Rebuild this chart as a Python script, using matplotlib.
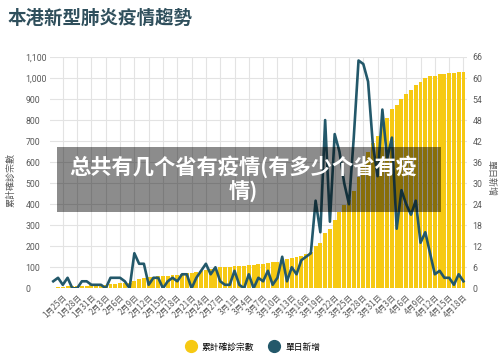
import matplotlib
matplotlib.use("Agg")
import matplotlib.pyplot as plt
import numpy as np
from matplotlib.lines import Line2D

# ---- data (Jan 23 .. Apr 18) ----
dates = ["1月23日","1月24日","1月25日","1月26日","1月27日","1月28日","1月29日","1月30日","1月31日",
         "2月1日","2月2日","2月3日","2月4日","2月5日","2月6日","2月7日","2月8日","2月9日","2月10日",
         "2月11日","2月12日","2月13日","2月14日","2月15日","2月16日","2月17日","2月18日","2月19日",
         "2月20日","2月21日","2月22日","2月23日","2月24日","2月25日","2月26日","2月27日","2月28日",
         "2月29日","3月1日","3月2日","3月3日","3月4日","3月5日","3月6日","3月7日","3月8日","3月9日",
         "3月10日","3月11日","3月12日","3月13日","3月14日","3月15日","3月16日","3月17日","3月18日",
         "3月19日","3月20日","3月21日","3月22日","3月23日","3月24日","3月25日","3月26日","3月27日",
         "3月28日","3月29日","3月30日","3月31日","4月1日","4月2日","4月3日","4月4日","4月5日",
         "4月6日","4月7日","4月8日","4月9日","4月10日","4月11日","4月12日","4月13日","4月14日",
         "4月15日","4月16日","4月17日","4月18日"]

daily_new = [2, 3, 1, 3, 0, 0, 2, 2, 1, 1, 1, 0, 3, 3, 3, 2, 0, 10, 7, 7, 1, 3, 3, 0, 2, 3, 2, 4, 4,
             0, 3, 5, 7, 4, 6, 2, 1, 1, 5, 1, 0, 4, 0, 3, 2, 5, 1, 3, 9, 2, 6, 4, 8, 9, 10,
             25, 16, 48, 19, 44, 39, 30, 24, 43, 65, 64, 59, 41, 32, 51, 37, 43, 17, 28, 24, 21, 25,
             13, 16, 10, 4, 5, 3, 3, 1, 4, 2]

cumulative = [2, 5, 6, 9, 9, 9, 11, 13, 14, 15, 16, 16, 19, 22, 25, 27, 27, 37, 44, 51, 52, 55, 58, 58,
              60, 63, 65, 69, 73, 73, 76, 81, 88, 92, 98, 100, 101, 102, 107, 108, 108, 112, 112, 115,
              117, 122, 123, 126, 135, 137, 143, 147, 155, 164, 174, 199, 215, 263, 282, 326, 365, 395,
              419, 462, 527, 591, 650, 691, 723, 774, 811, 854, 871, 899, 923, 944, 969, 982, 998, 1008,
              1012, 1017, 1020, 1023, 1024, 1028, 1030]

left_ticks = [0, 100, 200, 300, 400, 500, 600, 700, 800, 900, 1000, 1100]
right_ticks = [0, 6, 12, 18, 24, 30, 36, 42, 48, 54, 60, 66]

title = "本港新型肺炎疫情趨勢"
left_label = "累計確診宗數"
right_label = "單日新增"
legend_labels = ["累計確診宗數", "單日新增"]
overlay_text = "总共有几个省有疫情(有多少个省有疫\n情)"

YELLOW = "#F6C913"
TEAL = "#23586A"
GRID = "#e3e3e3"
TXT = "#5a5a5a"

W, H = 500, 360
fig = plt.figure(figsize=(W/100, H/100), dpi=100)
fig.patch.set_facecolor("white")

L, R, T, B = 50.4, 466.8, 57, 288.3
ax = fig.add_axes([L/W, 1 - B/H, (R-L)/W, (B-T)/H])
x = np.arange(len(dates))

ax.bar(x, cumulative, width=0.82, color=YELLOW, zorder=2)
ax.set_xlim(-0.6, len(dates) - 0.3)
ax.set_ylim(0, 1100)
ax.set_yticks(left_ticks)
ax.set_yticklabels([f"{v:,}" for v in left_ticks], fontsize=6.3, color=TXT,
                   family=["Roboto", "DejaVu Sans"], ha="left")
ax.tick_params(axis="y", length=0, pad=18)
tick_idx = list(range(2, len(dates), 3))
ax.set_xticks(tick_idx)
ax.set_xticklabels([dates[i] for i in tick_idx], rotation=45, ha="right",
                   rotation_mode="anchor", fontsize=5.8, color=TXT,
                   family=["Noto Sans CJK TC", "DejaVu Sans"])
ax.tick_params(axis="x", length=0, pad=3)
ax.grid(True, color=GRID, linewidth=0.8, zorder=0)
ax.set_axisbelow(True)
for s in ax.spines.values():
    s.set_visible(False)

ax2 = ax.twinx()
ax2.plot(x, daily_new, color=TEAL, linewidth=1.9, zorder=3)
ax2.set_ylim(0, 66)
ax2.set_yticks(right_ticks)
ax2.set_yticklabels([str(v) for v in right_ticks], fontsize=6.3, color=TXT,
                    family=["Roboto", "DejaVu Sans"])
ax2.tick_params(axis="y", length=0, pad=4)
for s in ax2.spines.values():
    s.set_visible(False)

fig.text(8/W, 1 - 18/H, title, fontsize=13.3, fontweight="bold", color="#2f4f5c",
         family=["Noto Sans CJK TC", "DejaVu Sans"], va="center", ha="left")
fig.text(11/W, 1 - 180/H, left_label, rotation=90, fontsize=6.5, color=TXT,
         family=["Noto Sans CJK TC", "DejaVu Sans"], va="center", ha="center")
fig.text(491/W, 1 - 178/H, right_label, rotation=270, fontsize=6.5, color=TXT,
         family=["Noto Sans CJK TC", "DejaVu Sans"], va="center", ha="center")

handles = [Line2D([], [], marker="o", linestyle="none", markersize=8.5, color=YELLOW),
           Line2D([], [], marker="o", linestyle="none", markersize=8.5, color=TEAL)]
fig.legend(handles, legend_labels, loc="center", bbox_to_anchor=(251/W, 1 - 347/H),
           ncol=2, frameon=False, handletextpad=0.3, columnspacing=1.2,
           prop={"family": ["Noto Sans CJK TC", "DejaVu Sans"], "size": 6.3})

# overlay box
bx0, bx1, by0, by1 = 57, 441, 147, 212
fig.patches.append(plt.Rectangle((bx0/W, 1 - by1/H), (bx1-bx0)/W, (by1-by0)/H,
                                 transform=fig.transFigure, facecolor="black",
                                 alpha=0.45, edgecolor="none", zorder=10))
fig.text(243/W, 1 - 179/H, overlay_text, fontsize=15.3, fontweight="bold", color="white",
         family=["Noto Sans CJK SC", "DejaVu Sans"], va="center", ha="center",
         linespacing=1.2, zorder=11)

fig.savefig("out.png", dpi=100)
